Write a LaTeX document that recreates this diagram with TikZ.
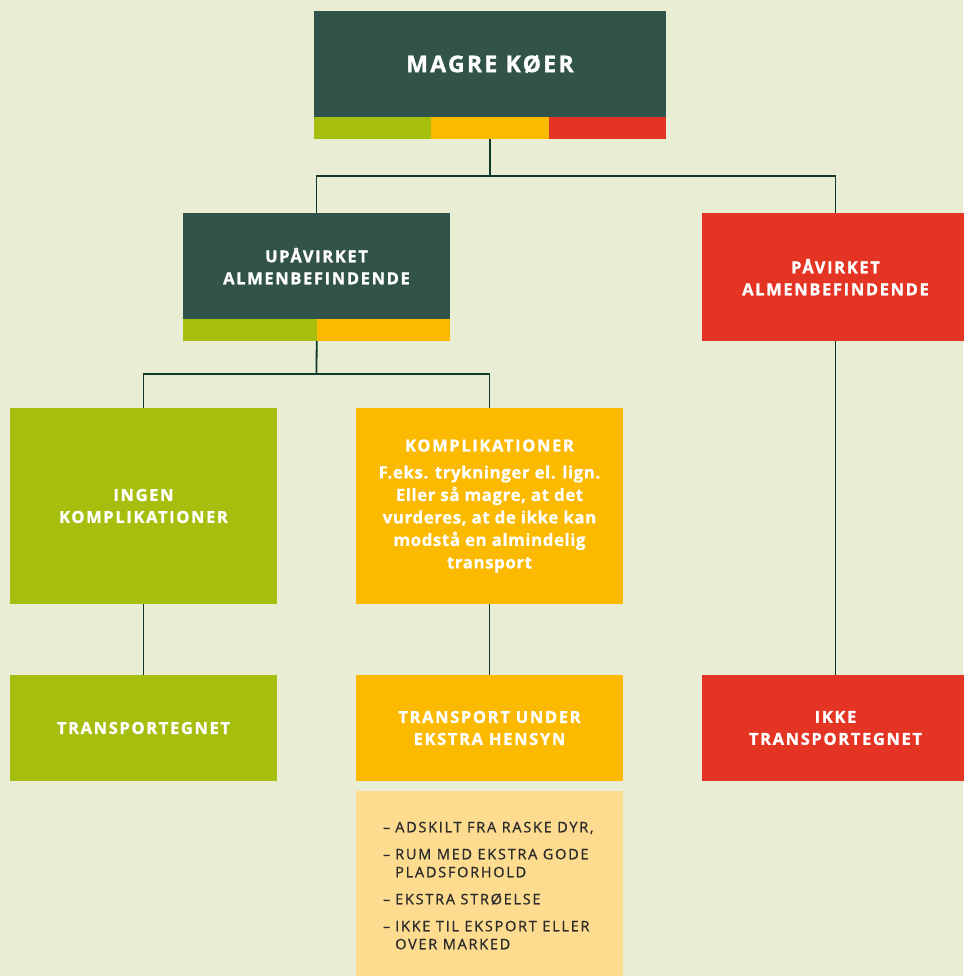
\documentclass[tikz,border=0pt]{standalone}
\usepackage{fontspec}
\setmainfont{Open Sans}
\newfontfamily\headfont[LetterSpace=10,FakeBold=1.2]{Open Sans}
\newfontfamily\bodyfont[LetterSpace=3,FakeBold=0.6]{Open Sans}
\newfontfamily\listfont[LetterSpace=12,FakeBold=0.9]{Open Sans}
\usetikzlibrary{calc}
\usetikzlibrary{positioning}
\definecolor{bgcol}{HTML}{E9EDD4}
\definecolor{darkcol}{HTML}{32534A}
\definecolor{limecol}{HTML}{A6BF0E}
\definecolor{goldcol}{HTML}{FBBA00}
\definecolor{redcol}{HTML}{E43524}
\definecolor{palecol}{HTML}{FDDB8F}
\definecolor{linecol}{HTML}{12392E}
\definecolor{textcol}{HTML}{2B2B2B}

\begin{document}
\begin{tikzpicture}[x=1pt,y=-1pt]
    \tikzstyle{box}=[inner sep=0, minimum width=267pt, minimum height=106pt, text=white, align=center, font=\headfont\bfseries\fontsize{16.5}{22}\selectfont];
    \tikzstyle{bar}=[inner sep=0, minimum height=22pt];
    \tikzstyle{conn}=[draw=linecol, line width=1.8pt];
    \useasboundingbox (0,0) rectangle (963,976);
    \fill[bgcol] (0,0) rectangle (963,976);
    \node[box, fill=darkcol, minimum width=352pt, font=\headfont\bfseries\fontsize{23}{26}\selectfont] (top) at (490,64) {MAGRE KØER};
    \foreach \c [count=\i from 0] in {limecol,goldcol,redcol} {
      \node[bar, fill=\c, minimum width=117.33pt] (tb\i) at (314+117.33*\i+58.67,128) {};
    }
    \node[box, fill=darkcol] (upa) at (316.5,266) {UPÅVIRKET\\ALMENBEFINDENDE};
    \foreach \c [count=\i from 0] in {limecol,goldcol} {
      \node[bar, fill=\c, minimum width=133.5pt] (ub\i) at (183+133.5*\i+66.75,330) {};
    }
    \node[box, fill=redcol, minimum height=128pt] (pav) at (835.5,277) {PÅVIRKET\\ALMENBEFINDENDE};
    \node[box, fill=limecol, minimum height=196pt] (ingen) at (143.5,506) {INGEN\\KOMPLIKATIONER};
    \node[box, fill=goldcol, minimum height=196pt, font=\bodyfont\bfseries\fontsize{17}{22.5}\selectfont] (komp) at (489.5,506)
      {{\headfont\bfseries\fontsize{16.5}{22}\selectfont KOMPLIKATIONER}\\[4.5pt]F.eks. trykninger el. lign.\\Eller så magre, at det\\vurderes, at de ikke kan\\modstå en almindelig\\transport};
    \node[box, fill=limecol] (tr) at (143.5,728) {TRANSPORTEGNET};
    \node[box, fill=goldcol] (tu) at (489.5,728) {TRANSPORT UNDER\\EKSTRA HENSYN};
    \node[box, fill=redcol] (ikke) at (835.5,728) {IKKE\\TRANSPORTEGNET};
    \node[box, fill=palecol, minimum height=195pt, anchor=north] (list) at (489.5,791) {};
    \node[inner sep=0, anchor=north west, text=textcol, font=\listfont\fontsize{14.5}{18}\selectfont] (items) at ($(list.north west)+(27,28.5)$) {%
      \begin{tabular}{@{}l@{\hspace{5pt}}l@{}}
        – & ADSKILT FRA RASKE DYR,\\[9pt]
        – & RUM MED EKSTRA GODE\\
          & PLADSFORHOLD\\[9pt]
        – & EKSTRA STRØELSE\\[9pt]
        – & IKKE TIL EKSPORT ELLER\\
          & OVER MARKED
      \end{tabular}};
    \coordinate (j1) at (490,176);
    \coordinate (j2) at (316.5,374);
    \draw[conn] (tb1.south) -- (j1);
    \draw[conn] (upa.north) |- (j1) -| (pav.north);
    \draw[conn] (ub0.south east) -- (j2);
    \draw[conn] (ingen.north) |- (j2) -| (komp.north);
    \draw[conn] (ingen.south) -- (tr.north);
    \draw[conn] (komp.south) -- (tu.north);
    \draw[conn] (pav.south) -- (ikke.north);
\end{tikzpicture}
\end{document}
